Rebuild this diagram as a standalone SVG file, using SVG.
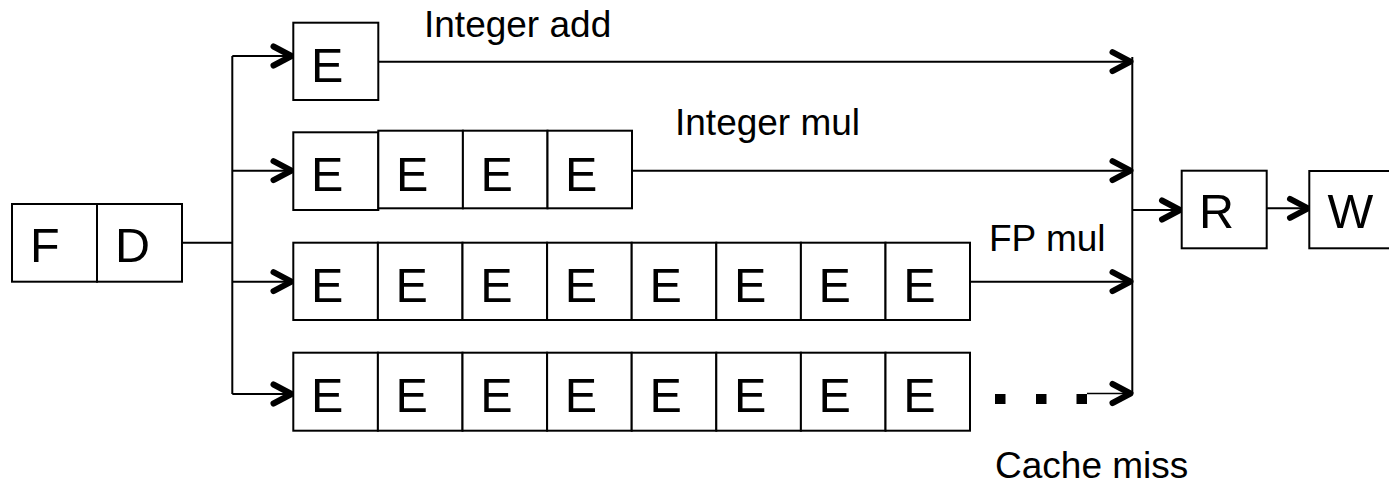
<svg xmlns="http://www.w3.org/2000/svg" xmlns:xlink="http://www.w3.org/1999/xlink" width="1389" height="485" viewBox="0 0 1389 485">
<style>
.box{fill:#fff;stroke:#000;stroke-width:2}
.big{font-family:"Liberation Sans",Arial,sans-serif;font-size:48.5px;fill:#000}
.lbl{font-family:"Liberation Sans",Arial,sans-serif;font-size:37px;fill:#000}
.ln{fill:none;stroke:#000;stroke-width:2}
.chev{fill:none;stroke:#000;stroke-width:6px;stroke-linecap:round;stroke-linejoin:round}
</style>
<defs>
<path id="chv" class="chev" d="M-19,-9.5 L-1,0 L-19,9.5"/>
</defs>
<rect width="1389" height="485" fill="#fff"/>
<g id="connectors">
<path class="ln" d="M182,242.7 H232.3 M232.3,56 V394"/>
<path class="ln" d="M232.3,56 H292"/>
<path class="ln" d="M232.3,170.7 H292"/>
<path class="ln" d="M232.3,281.7 H292"/>
<path class="ln" d="M232.3,394 H292"/>
<path class="ln" d="M378.3,61.7 H1131"/>
<path class="ln" d="M632,170.7 H1131"/>
<path class="ln" d="M970,281.7 H1131"/>
<path class="ln" d="M1087,393.5 H1131" style="stroke-width:1.5"/>
<path class="ln" d="M1132.3,57 V393.5"/>
<path class="ln" d="M1132.3,210 H1181"/>
<path class="ln" d="M1266.7,208.3 H1309"/>
<use xlink:href="#chv" href="#chv" x="292.5" y="56"/>
<use xlink:href="#chv" href="#chv" x="292.5" y="170.7"/>
<use xlink:href="#chv" href="#chv" x="292.5" y="281.7"/>
<use xlink:href="#chv" href="#chv" x="292.5" y="394"/>
<use xlink:href="#chv" href="#chv" x="1131.5" y="61.7"/>
<use xlink:href="#chv" href="#chv" x="1131.5" y="170.7"/>
<use xlink:href="#chv" href="#chv" x="1131.5" y="281.7"/>
<use xlink:href="#chv" href="#chv" x="1131.5" y="393.5"/>
<use xlink:href="#chv" href="#chv" x="1181" y="210"/>
<use xlink:href="#chv" href="#chv" x="1309" y="208.3"/>
<rect x="995" y="394" width="10.5" height="10" fill="#000"/>
<rect x="1036" y="394" width="10.5" height="10" fill="#000"/>
<rect x="1076.5" y="394" width="10.5" height="10" fill="#000"/>
</g>
<g id="node-F"><rect class="box" x="12" y="204" width="85" height="77.7"/><text class="big" x="30" y="262">F</text></g>
<g id="node-D"><rect class="box" x="97" y="204" width="85" height="77.7"/><text class="big" x="115" y="262">D</text></g>
<g id="row-int-add">
<rect class="box" x="293.3" y="22.7" width="85" height="77.3"/><text class="big" x="311" y="81.7">E</text>
</g>
<g id="row-int-mul">
<rect class="box" x="293.3" y="132.3" width="85" height="77.7"/><text class="big" x="311" y="190.7">E</text>
<rect class="box" x="378.3" y="130.7" width="84.6" height="77.6"/><text class="big" x="396" y="190.7">E</text>
<rect class="box" x="462.9" y="130.7" width="84.6" height="77.6"/><text class="big" x="480.5" y="190.7">E</text>
<rect class="box" x="547.5" y="130.7" width="84.5" height="77.6"/><text class="big" x="565" y="190.7">E</text>
</g>
<g id="row-fp-mul">
<rect class="box" x="293.3" y="242.7" width="84.6" height="77.3"/><text class="big" x="311" y="301.7">E</text>
<rect class="box" x="377.9" y="242.7" width="84.6" height="77.3"/><text class="big" x="395.6" y="301.7">E</text>
<rect class="box" x="462.5" y="242.7" width="84.6" height="77.3"/><text class="big" x="480.2" y="301.7">E</text>
<rect class="box" x="547.1" y="242.7" width="84.6" height="77.3"/><text class="big" x="564.8" y="301.7">E</text>
<rect class="box" x="631.7" y="242.7" width="84.6" height="77.3"/><text class="big" x="649.4" y="301.7">E</text>
<rect class="box" x="716.3" y="242.7" width="84.6" height="77.3"/><text class="big" x="734" y="301.7">E</text>
<rect class="box" x="800.9" y="242.7" width="84.6" height="77.3"/><text class="big" x="818.6" y="301.7">E</text>
<rect class="box" x="885.5" y="242.7" width="84.5" height="77.3"/><text class="big" x="903.2" y="301.7">E</text>
</g>
<g id="row-cache-miss">
<rect class="box" x="293.3" y="352.7" width="84.6" height="78"/><text class="big" x="311" y="411.7">E</text>
<rect class="box" x="377.9" y="352.7" width="84.6" height="78"/><text class="big" x="395.6" y="411.7">E</text>
<rect class="box" x="462.5" y="352.7" width="84.6" height="78"/><text class="big" x="480.2" y="411.7">E</text>
<rect class="box" x="547.1" y="352.7" width="84.6" height="78"/><text class="big" x="564.8" y="411.7">E</text>
<rect class="box" x="631.7" y="352.7" width="84.6" height="78"/><text class="big" x="649.4" y="411.7">E</text>
<rect class="box" x="716.3" y="352.7" width="84.6" height="78"/><text class="big" x="734" y="411.7">E</text>
<rect class="box" x="800.9" y="352.7" width="84.6" height="78"/><text class="big" x="818.6" y="411.7">E</text>
<rect class="box" x="885.5" y="352.7" width="84.5" height="78"/><text class="big" x="903.2" y="411.7">E</text>
</g>
<g id="node-R"><rect class="box" x="1181.7" y="170.7" width="85" height="77.6"/><text class="big" x="1199" y="228.3">R</text></g>
<g id="node-W"><rect class="box" x="1309.3" y="171" width="85" height="77.3"/><text class="big" x="1327.5" y="228.3">W</text></g>
<g id="labels">
<text class="lbl" x="424" y="37">Integer add</text>
<text class="lbl" x="675" y="135">Integer mul</text>
<text class="lbl" x="989" y="250.7">FP mul</text>
<text class="lbl" x="995" y="477.5">Cache miss</text>
</g>
</svg>
